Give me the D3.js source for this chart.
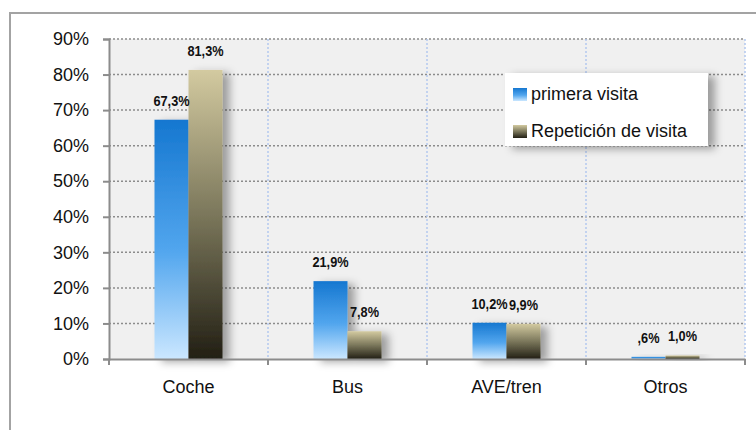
<!DOCTYPE html>
<html>
<head>
<meta charset="utf-8">
<script src="https://cdn.jsdelivr.net/npm/d3@7"></script>
<style>
  body { margin: 0; background: #fff; }
  svg { display: block; font-family: "Liberation Sans", Arial, sans-serif; }
</style>
</head>
<body>
<svg id="chart" width="756" height="430"></svg>
<script>
// datos
const categories = ["Coche", "Bus", "AVE/tren", "Otros"];
const series = ["primera visita", "Repetición de visita"];
const primeraVisita = [0.673, 0.219, 0.102, 0.006];
const repeticion = [0.813, 0.078, 0.099, 0.010];
const yTicks = [0, 0.1, 0.2, 0.3, 0.4, 0.5, 0.6, 0.7, 0.8, 0.9];

const values = [primeraVisita, repeticion];
const data = categories.map((c, i) => ({
  cat: c,
  vals: series.map((s, j) => ({ serie: s, idx: j, value: values[j][i] }))
}));

const svg = d3.select("#chart");
const plot = { left: 109, right: 745, top: 39, bottom: 359 };

const defs = svg.append("defs");
const grads = [
  { id: "gBlue", stops: [["0%", "#1577d0"], ["55%", "#52a6ee"], ["100%", "#cbe7ff"]] },
  { id: "gTan", stops: [["0%", "#d3caa0"], ["50%", "#7b775b"], ["100%", "#221f14"]] }
];
grads.forEach(g => {
  const lg = defs.append("linearGradient").attr("id", g.id)
    .attr("x1", 0).attr("y1", 0).attr("x2", 0).attr("y2", 1);
  g.stops.forEach(s => lg.append("stop").attr("offset", s[0]).attr("stop-color", s[1]));
});
const shadow = defs.append("filter").attr("id", "shadow")
  .attr("x", "-20%").attr("y", "-20%").attr("width", "200%").attr("height", "150%");
shadow.append("feDropShadow").attr("dx", 7).attr("dy", 3)
  .attr("stdDeviation", 4).attr("flood-color", "#000").attr("flood-opacity", 0.35);

// marco exterior
svg.append("rect")
  .attr("x", 10).attr("y", 13).attr("width", 780).attr("height", 440)
  .attr("fill", "#fff").attr("stroke", "#a3a3a3").attr("stroke-width", 2);

const x0 = d3.scaleBand().domain(categories).range([plot.left, plot.right]);
const groupW = 68;
const x1 = d3.scaleBand().domain(series).range([0, groupW]);
const y = d3.scaleLinear().domain([0, 0.9]).range([plot.bottom, plot.top]);

// fondo del area de trazado
svg.append("rect")
  .attr("x", plot.left).attr("y", plot.top)
  .attr("width", plot.right - plot.left).attr("height", plot.bottom - plot.top)
  .attr("fill", "#f0f0f0");

// rejilla horizontal
svg.append("g").selectAll("line")
  .data(yTicks.slice(1))
  .join("line")
  .attr("x1", plot.left).attr("x2", plot.right)
  .attr("y1", d => y(d)).attr("y2", d => y(d))
  .attr("stroke", "#8c8c8c").attr("stroke-width", 1.5)
  .attr("stroke-dasharray", "2,2");

// rejilla vertical
svg.append("g").selectAll("line")
  .data(categories.slice(1).map(c => x0(c)).concat([plot.right]))
  .join("line")
  .attr("x1", d => d).attr("x2", d => d)
  .attr("y1", plot.top).attr("y2", plot.bottom)
  .attr("stroke", "#b3c8ee").attr("stroke-width", 1.5)
  .attr("stroke-dasharray", "2,2");

// barras
const fmt = d3.formatLocale({ decimal: ",", thousands: ".", grouping: [3], currency: ["", "€"] }).format(".1%");
const label = v => fmt(v).replace(/^0,/, ",");
const groups = svg.append("g").selectAll("g")
  .data(data)
  .join("g")
  .attr("transform", d => `translate(${x0(d.cat) + (x0.bandwidth() - groupW) / 2},0)`);

groups.append("g").attr("filter", "url(#shadow)")
  .selectAll("rect")
  .data(d => d.vals)
  .join("rect")
  .attr("x", d => x1(d.serie))
  .attr("y", d => y(d.value))
  .attr("width", x1.bandwidth())
  .attr("height", d => plot.bottom - y(d.value))
  .attr("fill", d => d.idx === 0 ? "url(#gBlue)" : "url(#gTan)");

// etiquetas (estrechadas, como Arial Narrow)
groups.selectAll("text")
  .data(d => d.vals)
  .join("text")
  .attr("transform", d => `translate(${x1(d.serie) + x1.bandwidth() / 2},${y(d.value) - 14}) scale(0.85,1)`)
  .attr("text-anchor", "middle")
  .style("font-weight", "bold")
  .style("font-size", "15px")
  .attr("fill", "#111")
  .text(d => label(d.value));

// eje Y
const yAxis = svg.append("g")
  .attr("transform", `translate(${plot.left},0)`)
  .call(d3.axisLeft(y).tickValues(yTicks).tickFormat(d3.format(".0%")).tickSize(6).tickPadding(14));
yAxis.select(".domain").attr("stroke", "#8c8c8c").attr("stroke-width", 2);
yAxis.selectAll(".tick line").attr("stroke", "#8c8c8c").attr("stroke-width", 2);
yAxis.selectAll(".tick text").attr("fill", "#111").style("font-size", "18px").style("font-family", "'Liberation Sans', Arial, sans-serif");

// eje X
const xAxis = svg.append("g")
  .attr("transform", `translate(0,${plot.bottom})`)
  .call(d3.axisBottom(x0).tickSize(0).tickPadding(21));
xAxis.select(".domain").attr("stroke", "#8c8c8c").attr("stroke-width", 2);
xAxis.selectAll(".tick text").attr("fill", "#111").style("font-size", "18px").style("font-family", "'Liberation Sans', Arial, sans-serif");
xAxis.append("g").selectAll("line")
  .data(categories.map(c => x0(c)).concat([plot.right]))
  .join("line")
  .attr("x1", d => d).attr("x2", d => d)
  .attr("y1", 0).attr("y2", 6)
  .attr("stroke", "#8c8c8c").attr("stroke-width", 2);

// leyenda
const legend = svg.append("g").attr("transform", "translate(505,73)");
legend.append("rect")
  .attr("width", 203).attr("height", 73)
  .attr("fill", "#fff").attr("filter", "url(#shadow)");
const items = legend.selectAll("g.item")
  .data(series)
  .join("g")
  .attr("class", "item")
  .attr("transform", (d, i) => `translate(8,${15 + i * 37})`);
items.append("rect")
  .attr("width", 14).attr("height", 13)
  .attr("fill", (d, i) => i === 0 ? "url(#gBlue)" : "url(#gTan)");
items.append("text")
  .attr("x", 18).attr("y", 12)
  .attr("fill", "#111")
  .style("font-size", "18px")
  .text(d => d);
</script>
</body>
</html>
